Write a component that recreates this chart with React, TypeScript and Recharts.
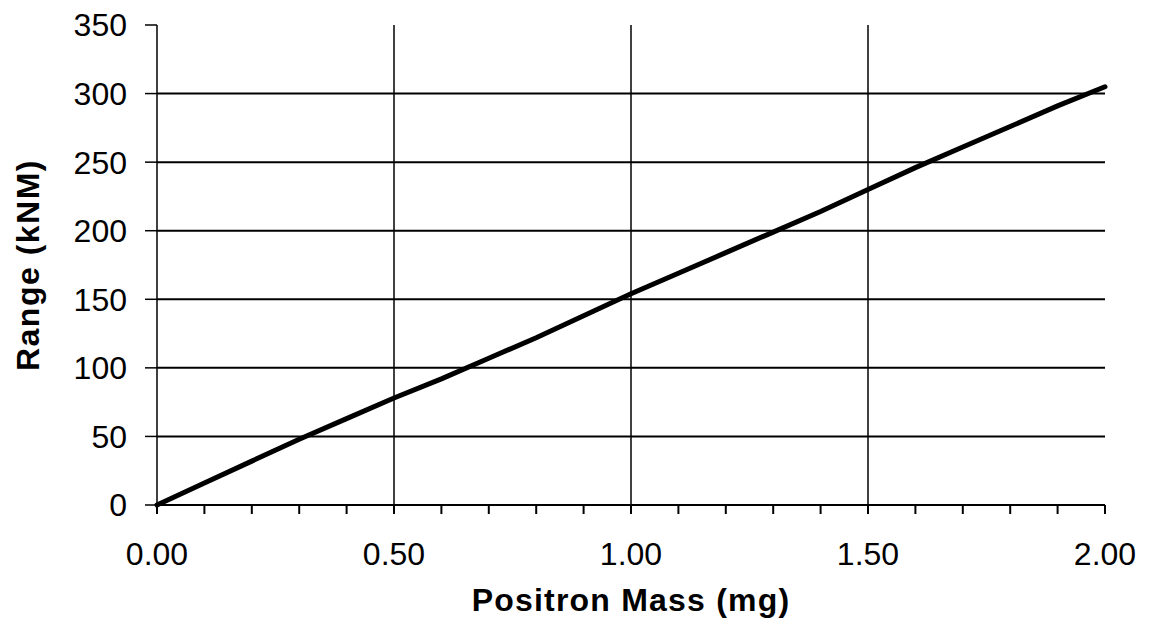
import React from 'react';
import { LineChart, Line, XAxis, YAxis, ReferenceLine, CartesianGrid } from 'recharts';

// positron mass (mg)
const massValues = [0, 0.1, 0.2, 0.3, 0.4, 0.5, 0.6, 0.7, 0.8, 0.9, 1.0, 1.1, 1.2, 1.3, 1.4, 1.5, 1.6, 1.7, 1.8, 1.9, 2.0];
// range (kNM)
const rangeValues = [0, 16, 32, 48, 63, 78, 92, 107, 122, 138, 154, 169, 184, 199, 214, 230, 246, 261, 276, 291, 305];

const yTicks = [0, 50, 100, 150, 200, 250, 300, 350];
const xTicks = massValues;
const hGrid = [50, 100, 150, 200, 250, 300];
const vGrid = [0.5, 1.0, 1.5];

const data = massValues.map((m, i) => ({ mass: m, range: rangeValues[i] }));

const FONT = '"Liberation Sans", Arial, sans-serif';

const fmtX = (v: number) => (Math.abs(v * 2 - Math.round(v * 2)) < 1e-6 ? v.toFixed(2) : '');

const App: React.FC = () => {
    return (
        <div style={{ position: 'absolute', left: 0, top: 0, background: '#fff' }}>
            <LineChart
                width={1149}
                height={631}
                data={data}
                margin={{ top: 25, right: 44, bottom: 0, left: 0 }}
                style={{ fontFamily: FONT }}
            >
                <CartesianGrid horizontal={false} vertical={false} />
                {hGrid.map((v) => (
                    <ReferenceLine key={'h' + v} y={v} stroke="#000" strokeWidth={2} ifOverflow="extendDomain" />
                ))}
                {vGrid.map((v) => (
                    <ReferenceLine key={'v' + v} x={v} stroke="#000" strokeWidth={1.5} />
                ))}
                <XAxis
                    dataKey="mass"
                    type="number"
                    domain={[0, 2]}
                    ticks={xTicks}
                    interval={0}
                    tickFormatter={fmtX}
                    height={126}
                    tickSize={9}
                    tickMargin={28}
                    stroke="#000"
                    strokeWidth={2}
                    tick={{ fill: '#000', fontSize: 32, fontFamily: FONT }}
                    label={{
                        value: 'Positron Mass (mg)',
                        position: 'insideBottom',
                        offset: 20,
                        fill: '#000',
                        fontSize: 32,
                        fontWeight: 'bold',
                        fontFamily: FONT,
                        style: { letterSpacing: 1.2 },
                    }}
                />
                <YAxis
                    type="number"
                    domain={[0, 350]}
                    ticks={yTicks}
                    interval={0}
                    width={157}
                    tickSize={12}
                    tickMargin={18}
                    stroke="#000"
                    strokeWidth={1.5}
                    tick={{ fill: '#000', fontSize: 32, fontFamily: FONT }}
                    label={{
                        value: 'Range (kNM)',
                        angle: -90,
                        position: 'insideLeft',
                        offset: 28,
                        fill: '#000',
                        fontSize: 32,
                        fontWeight: 'bold',
                        fontFamily: FONT,
                        style: { textAnchor: 'middle', letterSpacing: 1.5 },
                    }}
                />
                <Line
                    type="linear"
                    dataKey="range"
                    stroke="#000"
                    strokeWidth={5}
                    strokeLinecap="round"
                    dot={false}
                    isAnimationActive={false}
                />
            </LineChart>
        </div>
    );
};

export default App;
